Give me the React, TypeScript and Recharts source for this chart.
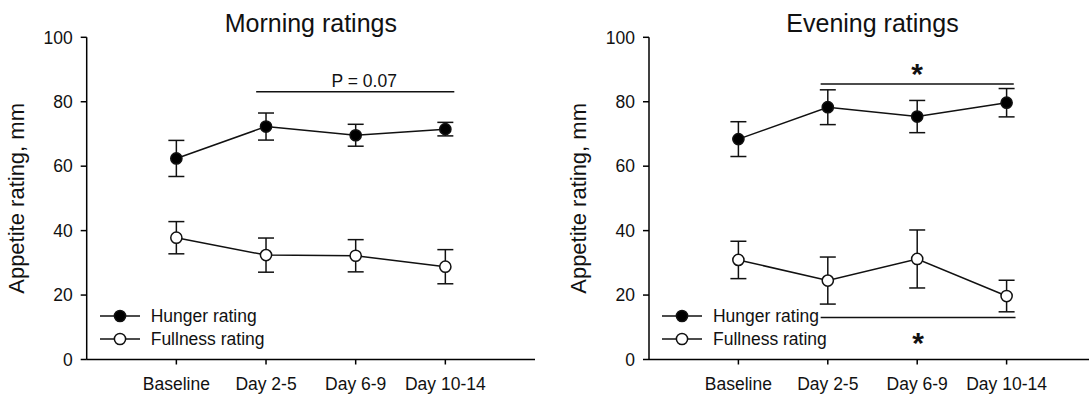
import React from 'react';
import { LineChart, Line, XAxis, YAxis, ErrorBar, ReferenceLine, Legend } from 'recharts';

const FONT = '"Liberation Sans", Arial, sans-serif';
const INK = '#111';

const CATEGORIES = ['Baseline', 'Day 2-5', 'Day 6-9', 'Day 10-14'];
const Y_TICKS = [0, 20, 40, 60, 80, 100];

// morning ratings (mean, SEM), mm
const morningHunger = [62.4, 72.3, 69.6, 71.5];
const morningHungerSE = [5.6, 4.2, 3.4, 2.1];
const morningFullness = [37.8, 32.4, 32.2, 28.8];
const morningFullnessSE = [5.0, 5.3, 5.0, 5.3];

// evening ratings (mean, SEM), mm
const eveningHunger = [68.4, 78.3, 75.4, 79.7];
const eveningHungerSE = [5.4, 5.4, 5.0, 4.4];
const eveningFullness = [30.9, 24.5, 31.2, 19.7];
const eveningFullnessSE = [5.8, 7.3, 9.0, 4.9];

// significance brackets, in category-index units along x and mm along y
const morningBrackets = [{ from: 0.89, to: 3.1, y: 83.1, text: 'P = 0.07', side: 'above' }];
const eveningBrackets = [
  { from: 0.92, to: 3.08, y: 85.5, text: '*', side: 'above' },
  { from: 0.92, to: 3.1, y: 13.0, text: '*', side: 'below' },
];

const SERIES = [
  { key: 'hunger', name: 'Hunger rating', fill: '#000' },
  { key: 'fullness', name: 'Fullness rating', fill: '#fff' },
];

function buildRows(h: number[], hse: number[], f: number[], fse: number[]) {
  return CATEGORIES.map((_, i) => ({
    idx: i,
    hunger: h[i],
    hungerErr: hse[i],
    fullness: f[i],
    fullnessErr: fse[i],
  }));
}

const morningRows = buildRows(morningHunger, morningHungerSE, morningFullness, morningFullnessSE);
const eveningRows = buildRows(eveningHunger, eveningHungerSE, eveningFullness, eveningFullnessSE);

function BracketText(props: any) {
  const { viewBox, text, side } = props;
  const star = text === '*';
  const cx = viewBox.x + viewBox.width / 2 + (star ? 0 : 9);
  const y = side === 'above' ? viewBox.y - (star ? 0.5 : 5) : viewBox.y + 35.5;
  return (
    <text
      x={cx}
      y={y}
      textAnchor="middle"
      fontSize={star ? 30 : 17.5}
      fontWeight={star ? 'bold' : 'normal'}
      fontFamily={FONT}
      fill={INK}
    >
      {text}
    </text>
  );
}

function YLabel(props: any) {
  const { viewBox } = props;
  const x = viewBox.x + viewBox.width - 63;
  const y = viewBox.y + viewBox.height / 2;
  return (
    <text x={x} y={y} transform={`rotate(-90 ${x} ${y})`} textAnchor="middle" fontSize={22} fontFamily={FONT} fill={INK}>
      Appetite rating, mm
    </text>
  );
}

const renderLegend = () => (
  <div style={{ display: 'flex', flexDirection: 'column' }}>
    {SERIES.map((s) => (
      <div key={s.key} style={{ display: 'flex', alignItems: 'center', height: 23.3 }}>
        <svg width={40} height={16} style={{ display: 'block' }}>
          <line x1={0} y1={8} x2={40} y2={8} stroke={INK} strokeWidth={1.5} />
          <circle cx={20} cy={8} r={5.6} fill={s.fill} stroke={INK} strokeWidth={1.5} />
        </svg>
        <span style={{ marginLeft: 10.7, fontSize: 17.5, color: INK, fontFamily: FONT, whiteSpace: 'nowrap' }}>
          {s.name}
        </span>
      </div>
    ))}
  </div>
);

interface PanelProps {
  title: string;
  rows: ReturnType<typeof buildRows>;
  brackets: { from: number; to: number; y: number; text: string; side: string }[];
  left: number;
  width: number;
  axisWidth: number;
  marginRight: number;
}

function Panel({ title, rows, brackets, left, width, axisWidth, marginRight }: PanelProps) {
  const plotWidth = width - axisWidth - marginRight;
  return (
    <div style={{ position: 'absolute', left, top: 0, width, height: 396 }}>
      <div
        style={{
          position: 'absolute',
          left: axisWidth,
          top: 10.5,
          width: plotWidth,
          textAlign: 'center',
          fontSize: 25,
          lineHeight: '25px',
          fontFamily: FONT,
          color: INK,
        }}
      >
        {title}
      </div>
      <LineChart width={width} height={396} data={rows} margin={{ top: 37.3, right: marginRight, bottom: 0, left: 0 }}>
        <XAxis
          dataKey="idx"
          type="number"
          domain={[-1, 4]}
          ticks={[0, 1, 2, 3]}
          tickFormatter={(v: number) => CATEGORIES[v]}
          height={36.5}
          axisLine={{ stroke: '#000', strokeWidth: 1.5 }}
          tickLine={{ stroke: '#000', strokeWidth: 1.5 }}
          tickSize={5}
          tickMargin={13}
          tick={{ fill: INK, fontSize: 17.5, fontFamily: FONT }}
        />
        <YAxis
          type="number"
          domain={[0, 100]}
          ticks={Y_TICKS}
          width={axisWidth}
          axisLine={{ stroke: '#000', strokeWidth: 1.5 }}
          tickLine={{ stroke: '#000', strokeWidth: 1.5 }}
          tickSize={6}
          tickMargin={8}
          tick={{ fill: INK, fontSize: 17.5, fontFamily: FONT }}
          label={(p: any) => <YLabel {...p} />}
        />
        {brackets.map((b, i) => (
          <ReferenceLine
            key={i}
            segment={[{ x: b.from, y: b.y }, { x: b.to, y: b.y }]}
            stroke={INK}
            strokeWidth={1.5}
            label={(p: any) => <BracketText {...p} text={b.text} side={b.side} />}
          />
        ))}
        {SERIES.map((s) => (
          <Line
            key={s.key}
            dataKey={s.key}
            name={s.name}
            type="linear"
            stroke={INK}
            strokeWidth={1.5}
            dot={{ r: 5.6, fill: s.fill, stroke: INK, strokeWidth: 1.5 }}
            activeDot={false}
            isAnimationActive={false}
          >
            <ErrorBar dataKey={`${s.key}Err`} direction="y" width={8} stroke={INK} strokeWidth={1.5} isAnimationActive={false} />
          </Line>
        ))}
        <Legend
          layout="vertical"
          align="center"
          verticalAlign="middle"
          content={renderLegend}
          wrapperStyle={{ left: axisWidth + 13.3, top: 304.4, width: 'auto' }}
        />
      </LineChart>
    </div>
  );
}

export default function App() {
  return (
    <div
      style={{
        position: 'absolute',
        left: 0,
        top: 0,
        width: 1089,
        height: 396,
        overflow: 'hidden',
        background: '#fff',
      }}
    >
      <Panel title="Morning ratings" rows={morningRows} brackets={morningBrackets} left={0} width={545} axisWidth={86.7} marginRight={10} />
      <Panel title="Evening ratings" rows={eveningRows} brackets={eveningBrackets} left={545} width={551} axisWidth={104} marginRight={0} />
    </div>
  );
}
